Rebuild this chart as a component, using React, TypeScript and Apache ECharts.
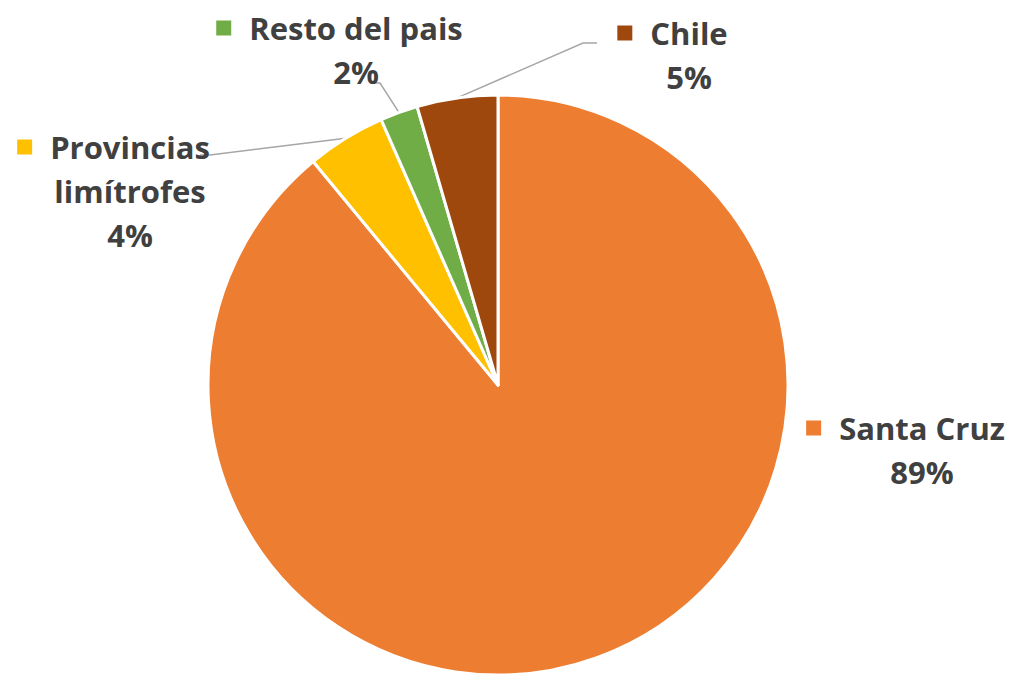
import React, { useEffect, useRef } from "react";
import * as echarts from "echarts";

const categories = ["Santa Cruz", "Provincias\nlimítrofes", "Resto del pais", "Chile"];
const values = [89.0, 4.4, 2.1, 4.5];
const colors = ["#ED7D31", "#FFC000", "#70AD47", "#9E480E"];

// label placement (Excel-like manual positions)
const labelPos = [
  { x: 922, y: 450 },
  { x: 130, y: 191 },
  { x: 356, y: 50 },
  { x: 689, y: 55 },
];
const guidePts: (number[][] | null)[] = [
  null,
  [[210, 155], [200, 155]],
  [[380, 83], [373, 83]],
  [[583, 43], [597, 43]],
];

const FONT = "Open Sans";
const TEXT = "#404040";

export default function App() {
  const ref = useRef<HTMLDivElement>(null);
  useEffect(() => {
    const chart = echarts.init(ref.current!, null, { renderer: "svg" });
    const rich: any = {
      name: { fontFamily: FONT, fontWeight: "bold", fontSize: 31, color: TEXT, lineHeight: 44 },
      g: { width: 18, height: 15 },
      p: { width: 33, height: 15 },
    };
    colors.forEach((c, i) => {
      rich["sq" + i] = { width: 15, height: 15, backgroundColor: c, fontSize: 1, lineHeight: 44 };
    });
    chart.setOption({
      animation: false,
      backgroundColor: "#ffffff",
      series: [
        {
          type: "pie",
          center: [498, 385],
          radius: 290,
          startAngle: 90,
          clockwise: true,
          avoidLabelOverlap: false,
          itemStyle: { borderColor: "#ffffff", borderWidth: 3 },
          label: {
            show: true,
            position: "outside",
            align: "center",
            rich,
            formatter: (p: any) => {
              const lines = String(p.name).split("\n");
              const pct = Math.round(p.percent) + "%";
              const out = [`{sq${p.dataIndex}| }{g|}{name|${lines[0]}}{p|}`];
              for (let k = 1; k < lines.length; k++) out.push(`{name|${lines[k]}}`);
              out.push(`{name|${pct}}`);
              return out.join("\n");
            },
          },
          labelLine: {
            show: true,
            length: 10,
            length2: 10,
            lineStyle: { color: "#A6A6A6", width: 1.5 },
          },
          labelLayout: (params: any) => {
            const i = params.dataIndex;
            const pos = labelPos[i];
            const res: any = { x: pos.x, y: pos.y, align: "center", verticalAlign: "middle" };
            const g = guidePts[i];
            if (g && params.labelLinePoints) {
              const a = params.labelLinePoints[0];
              res.labelLinePoints = [a, g[0], g[1]];
            }
            return res;
          },
          data: categories.map((name, i) => ({
            name,
            value: values[i],
            itemStyle: { color: colors[i] },
            labelLine: { show: i !== 0 },
          })),
        },
      ],
    });
    return () => chart.dispose();
  }, []);
  return (
    <div
      ref={ref}
      style={{ position: "fixed", left: 0, top: 0, width: 1010, height: 675, background: "#fff" }}
    />
  );
}
